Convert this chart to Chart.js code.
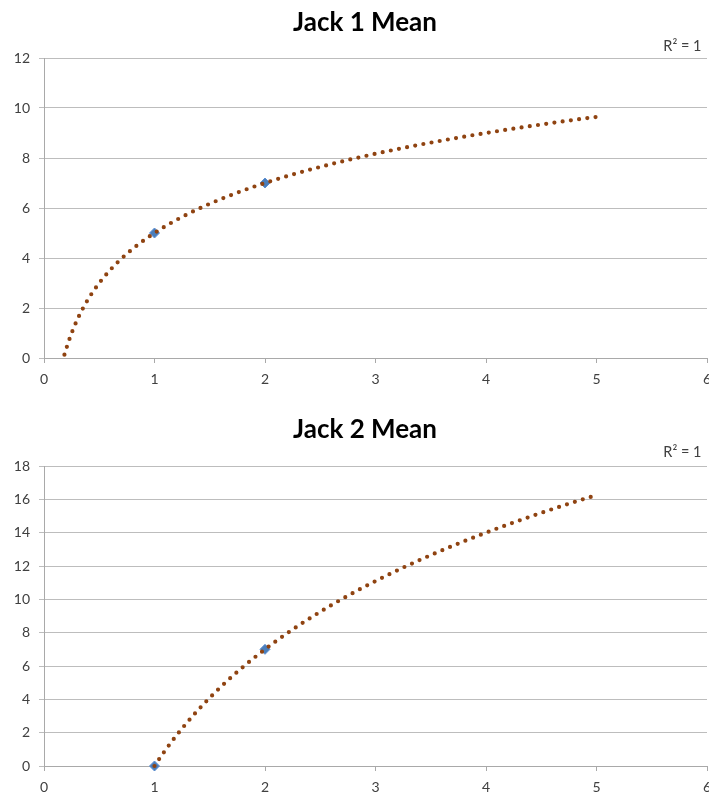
<!DOCTYPE html>
<html>
<head>
<meta charset="utf-8">
<title>Jack Means</title>
<script src="https://cdn.jsdelivr.net/npm/chart.js@4.4.1/dist/chart.umd.min.js"></script>
<style>
  html, body { margin: 0; padding: 0; background: #ffffff; }
  #wrap { position: relative; width: 709px; height: 793px; overflow: hidden; background: #fff; }
  canvas { position: absolute; left: 0; }
</style>
</head>
<body>
<div id="wrap">
  <canvas id="jack1" width="709" height="400" style="top:0px"></canvas>
  <canvas id="jack2" width="709" height="385" style="top:408px"></canvas>
</div>
<script>
// Measured means
const jack1X = [1, 2];
const jack1Y = [5, 7];
const jack2X = [1, 2];
const jack2Y = [0, 7];

// Logarithmic trendline extents (x range of each fitted curve)
const jack1TrendRange = [0.185, 5];
const jack2TrendRange = [1, 5];

// Axis ticks
const xTicks = [0, 1, 2, 3, 4, 5, 6];
const jack1YTicks = [0, 2, 4, 6, 8, 10, 12];
const jack2YTicks = [0, 2, 4, 6, 8, 10, 12, 14, 16, 18];

const titles = ['Jack 1 Mean', 'Jack 2 Mean'];
const trendLabel = 'R\u00B2 = 1';

// Least-squares fit of y = a*ln(x) + b
function logFit(xs, ys) {
  const n = xs.length;
  const lx = xs.map(Math.log);
  const mx = lx.reduce((s, v) => s + v, 0) / n;
  const my = ys.reduce((s, v) => s + v, 0) / n;
  let sxy = 0, sxx = 0;
  for (let i = 0; i < n; i++) {
    sxy += (lx[i] - mx) * (ys[i] - my);
    sxx += (lx[i] - mx) * (lx[i] - mx);
  }
  const a = sxy / sxx;
  return { a: a, b: my - a * mx };
}

// Sample the fitted curve along its range so the dotted line follows it smoothly
function trendPoints(xs, ys, range) {
  const fit = logFit(xs, ys);
  const pts = [];
  const steps = 160;
  for (let i = 0; i <= steps; i++) {
    const x = range[0] + (range[1] - range[0]) * i / steps;
    pts.push({ x: x, y: fit.a * Math.log(x) + fit.b });
  }
  return pts;
}

const LABEL_FONT = { family: 'Lato, "Open Sans", sans-serif', size: 14 };
const GRID = '#bdbdbd';
const AXIS = '#a9a9a9';

// Title and trendline label drawn onto the canvas
const headerPlugin = {
  id: 'header',
  afterDraw(chart, args, opts) {
    const ctx = chart.ctx;
    ctx.save();
    ctx.fillStyle = '#000000';
    ctx.textAlign = 'center';
    ctx.textBaseline = 'alphabetic';
    ctx.font = 'bold 26px Lato, "Open Sans", sans-serif';
    ctx.fillText(opts.title, 365, opts.titleBase);
    ctx.fillStyle = '#404040';
    ctx.textAlign = 'right';
    ctx.font = '14.5px Lato, "Open Sans", sans-serif';
    ctx.fillText(opts.label, 701.5, opts.labelBase);
    ctx.restore();
  }
};

function makeChart(id, xs, ys, range, yTicks, title, titleBase, labelBase, bottomSpace) {
  const yMax = yTicks[yTicks.length - 1];
  return new Chart(document.getElementById(id), {
    type: 'scatter',
    data: {
      datasets: [
        {
          label: 'Log. trend',
          data: trendPoints(xs, ys, range),
          showLine: true,
          borderColor: '#8f4311',
          backgroundColor: '#8f4311',
          borderWidth: 4.2,
          borderDash: [0, 8.3],
          borderCapStyle: 'round',
          pointRadius: 0,
          tension: 0,
          clip: false,
          order: 0
        },
        {
          label: title,
          data: xs.map((x, i) => ({ x: x, y: ys[i] })),
          pointStyle: 'rectRot',
          pointRadius: 5,
          backgroundColor: '#4a7ebb',
          borderColor: '#5b8fd3',
          borderWidth: 1,
          clip: false,
          order: 1
        }
      ]
    },
    options: {
      responsive: false,
      animation: false,
      devicePixelRatio: 1,
      layout: { autoPadding: false, padding: { top: 58, right: 2, left: 0, bottom: 0 } },
      plugins: {
        legend: { display: false },
        tooltip: { enabled: false },
        header: { title: title, titleBase: titleBase, label: trendLabel, labelBase: labelBase }
      },
      scales: {
        x: {
          type: 'linear',
          min: xTicks[0],
          max: xTicks[xTicks.length - 1],
          afterBuildTicks: (s) => { s.ticks = xTicks.map(v => ({ value: v })); },
          afterFit: (s) => { s.height = bottomSpace; s.paddingLeft = 0; s.paddingRight = 0; },
          ticks: { font: LABEL_FONT, color: '#404040', padding: 8, maxRotation: 0 },
          grid: { drawOnChartArea: false, drawTicks: true, tickLength: 5, color: AXIS },
          border: { display: true, color: AXIS }
        },
        y: {
          type: 'linear',
          min: 0,
          max: yMax,
          afterBuildTicks: (s) => { s.ticks = yTicks.map(v => ({ value: v })); },
          afterFit: (s) => { s.width = 44; },
          ticks: { font: LABEL_FONT, color: '#404040', padding: 9 },
          grid: { drawTicks: true, tickLength: 5, color: GRID },
          border: { display: true, color: AXIS }
        }
      }
    },
    plugins: [headerPlugin]
  });
}

makeChart('jack1', jack1X, jack1Y, jack1TrendRange, jack1YTicks, titles[0], 30.7, 50.7, 42);
makeChart('jack2', jack2X, jack2Y, jack2TrendRange, jack2YTicks, titles[1], 30.3, 48.7, 27);
</script>
</body>
</html>
